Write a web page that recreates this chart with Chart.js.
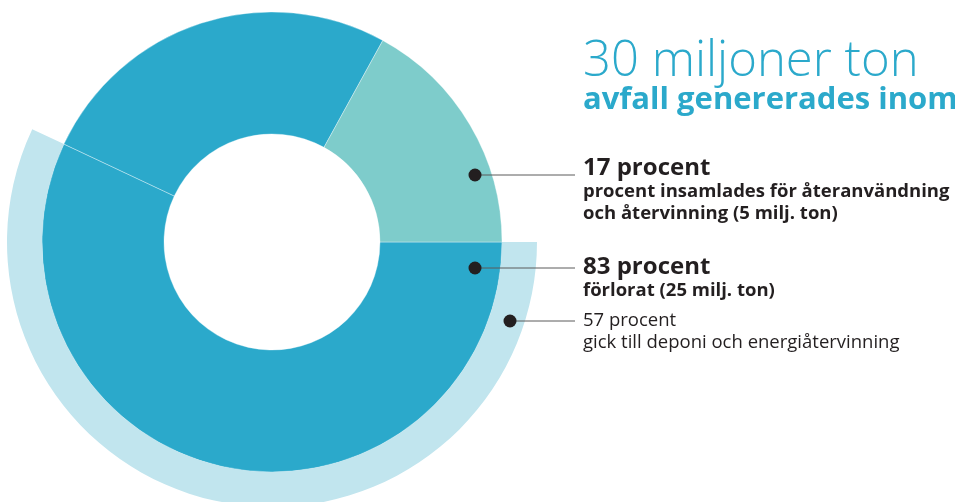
<!DOCTYPE html>
<html lang="sv">
<head>
<meta charset="utf-8">
<script src="https://cdn.jsdelivr.net/npm/chart.js@4"></script>
<style>
  html, body { margin: 0; padding: 0; background: #fff; overflow: hidden; width: 955px; height: 502px; }
  body { position: relative; font-family: "Open Sans", sans-serif; color: #231f20; }
  #chart { position: absolute; left: 0; top: -23px; }
  .t { position: absolute; left: 583px; white-space: nowrap; line-height: 1; }
  .title { color: #2ba9cb; font-size: 49px; font-weight: 300; }
  .sub { color: #2ba9cb; font-size: 31px; font-weight: 700; }
  .big { font-size: 24px; font-weight: 700; }
  .small { font-size: 18.5px; font-weight: 700; }
  .reg { font-size: 18.5px; font-weight: 400; }
</style>
</head>
<body>
<canvas id="chart" width="955" height="530"></canvas>

<div class="t title" style="top:33px">30 miljoner ton</div>
<div class="t sub" style="top:82px">avfall genererades inom</div>

<div class="t big" style="top:154px">17 procent</div>
<div class="t small" style="top:181px">procent insamlades för återanvändning</div>
<div class="t small" style="top:203px">och återvinning (5 milj. ton)</div>

<div class="t big" style="top:253px">83 procent</div>
<div class="t small" style="top:280px">förlorat (25 milj. ton)</div>

<div class="t reg" style="top:310px">57 procent</div>
<div class="t reg" style="top:332px">gick till deponi och energiåtervinning</div>

<script>
// yttre ringen: andel som gick till deponi och energiåtervinning
const outerLabels = ['Deponi och energiåtervinning', ''];
const outerValues = [57, 43];

// inre ringen: hela avfallsmängden
const innerLabels = ['Deponi och energiåtervinning', 'Övrigt förlorat', 'Återanvändning och återvinning'];
const innerValues = [57, 26, 17];

// punkter och linjer till texterna (sidkoordinater)
const pekare = [
  { x: 475, y: 175, tillX: 575 },
  { x: 475, y: 268, tillX: 575 },
  { x: 510, y: 321, tillX: 575 }
];

const pekarPlugin = {
  id: 'pekare',
  afterDatasetsDraw(chart) {
    let ctx = chart.ctx;
    ctx.save();
    pekare.forEach(p => {
      let y = p.y + 23;
      ctx.strokeStyle = '#5a5a5a';
      ctx.lineWidth = 1;
      ctx.beginPath();
      ctx.moveTo(p.x, y);
      ctx.lineTo(p.tillX, y);
      ctx.stroke();
      ctx.fillStyle = '#231f20';
      ctx.beginPath();
      ctx.arc(p.x, y, 6.5, 0, Math.PI * 2);
      ctx.fill();
    });
    ctx.restore();
  }
};

new Chart(document.getElementById('chart'), {
  type: 'doughnut',
  data: {
    labels: innerLabels,
    datasets: [
      {
        label: 'Deponi',
        data: outerValues,
        backgroundColor: ['#c1e5ee', 'rgba(0,0,0,0)'],
        borderWidth: 0,
        weight: 35
      },
      {
        label: 'Avfall',
        data: innerValues,
        backgroundColor: ['#2ba9cb', '#2ba9cb', '#7ecccb'],
        borderColor: 'rgba(255,255,255,0.35)',
        borderWidth: 1,
        weight: 122
      }
    ]
  },
  options: {
    responsive: false,
    animation: false,
    rotation: 90,
    cutout: 108,
    layout: { padding: { left: 7, right: 418, top: 0, bottom: 0 } },
    plugins: {
      legend: { display: false },
      tooltip: { enabled: false }
    }
  },
  plugins: [pekarPlugin]
});
</script>
</body>
</html>
